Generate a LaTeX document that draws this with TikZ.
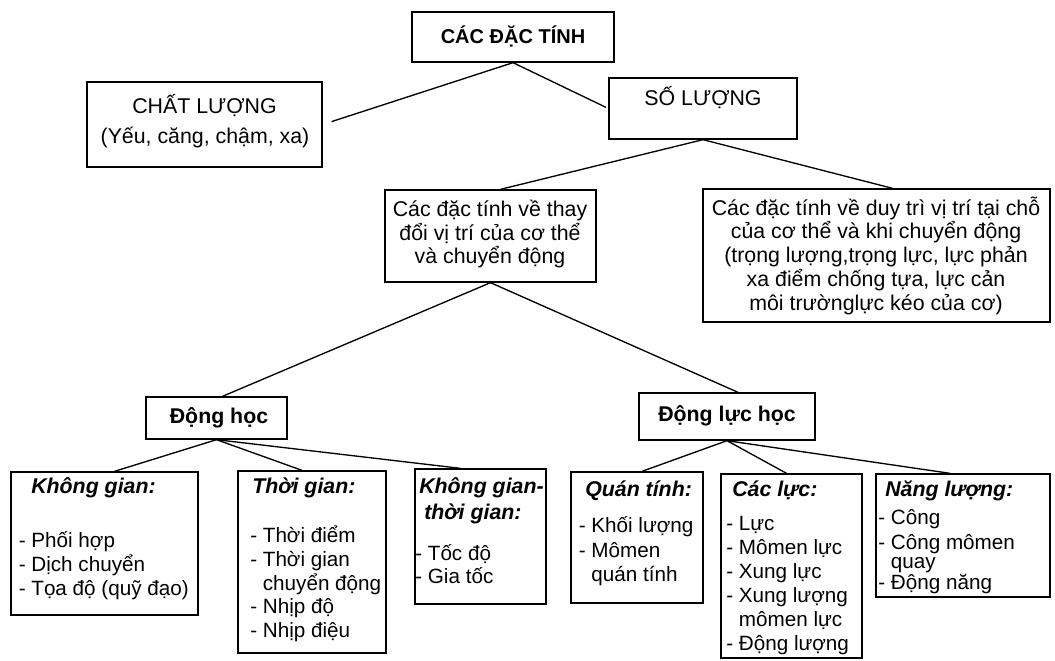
\documentclass[tikz,border=0pt]{standalone}
\usepackage{fontspec}
\setmainfont{Liberation Sans}
\usetikzlibrary{calc,fit}
\begin{document}
\begin{tikzpicture}[x=0.75pt,y=-0.75pt,
  box/.style={draw, line width=1pt, inner sep=0pt, rectangle},
  conn/.style={line width=1pt},
  tline/.style={font=\fontsize{16pt}{18pt}\selectfont, anchor=base, inner sep=0pt},
  tbold/.style={font=\fontsize{16pt}{18pt}\selectfont\bfseries, anchor=base, inner sep=0pt},
  hd/.style={font=\fontsize{16pt}{18pt}\selectfont\bfseries\itshape, anchor=base west, inner sep=0pt},
  itm/.style={font=\fontsize{15.5pt}{18pt}\selectfont, anchor=base west, inner sep=0pt}]
\useasboundingbox (0,0) rectangle (1055,660);
\fill[white] (0,0) rectangle (1055,660);

% boxes
\node[box, fit={(412,12) (614,62)}] (top) {};
\node[box, fit={(87,82) (322,167)}] (chat) {};
\node[box, fit={(609,78) (797,139)}] (so) {};
\node[box, fit={(385,190) (596,282)}] (thay) {};
\node[box, fit={(703,189) (1050,322)}] (duy) {};
\node[box, fit={(146,397) (287,439)}] (dh) {};
\node[box, fit={(639,393) (815,440)}] (dlh) {};
\node[box, fit={(11,472) (198,615)}] (kg) {};
\node[box, fit={(238,471) (386,653)}] (tg) {};
\node[box, fit={(415,469) (546,604)}] (kgtg) {};
\node[box, fit={(571,472) (703,603)}] (qt) {};
\node[box, fit={(721,474) (862,658)}] (cl) {};
\node[box, fit={(876,474) (1050,597)}] (nl) {};

% connectors
\draw[conn, shorten >=7pt] (top.south) -- (chat.east);
\draw[conn, shorten >=2pt] (top.south) -- (so.west);
\draw[conn] (so.south) -- ($(thay.north)+(10,0)$);
\draw[conn] (so.south) -- ($(duy.north)+(16,0)$);
\draw[conn] (thay.south) -- ($(dh.north)+(6,0)$);
\draw[conn] (thay.south) -- ($(dlh.north)+(11,0)$);
\draw[conn] (dh.south) -- ($(kg.north)+(10,0)$);
\draw[conn] (dh.south) -- ($(tg.north)+(-10,0)$);
\draw[conn] (dh.south) -- ($(kgtg.north)+(-20,0)$);
\draw[conn] (dlh.south) -- ($(qt.north)+(5,0)$);
\draw[conn] (dlh.south) -- ($(cl.north)+(-5,0)$);
\draw[conn] (dlh.south) -- ($(nl.north)+(-13,0)$);

% top texts
\node[tbold, font=\fontsize{15pt}{18pt}\selectfont\bfseries] (topT) at (513,43.5) {CÁC ĐẶC TÍNH};
\node[tline] (chat1) at (204.5,113) {CHẤT LƯỢNG};
\node[tline] (chat2) at (205,143) {(Yếu, căng, chậm, xa)};
\node[tline] (so1) at (703,105) {SỐ LƯỢNG};
\node[tline] (thay1) at (490,216.5) {Các đặc tính về thay};
\node[tline] (thay2) at (490,240) {đổi vị trí của cơ thể};
\node[tline] (thay3) at (490,263.5) {và chuyển động};
\node[tline] (duy1) at (876,215) {Các đặc tính về duy trì vị trí tại chỗ};
\node[tline] (duy2) at (876,238.5) {của cơ thể và khi chuyển động};
\node[tline] (duy3) at (876,262.5) {(trọng lượng,trọng lực, lực phản};
\node[tline] (duy4) at (876,286.5) {xa điểm chống tựa, lực cản};
\node[tline] (duy5) at (876,310) {môi trườnglực kéo của cơ)};
\node[tbold] (dhT) at (219,423) {Động học};
\node[tbold] (dlhT) at (727,421) {Động lực học};

% Không gian
\node[hd] (kgH) at (31,493) {Không gian:};
\node[itm] (kg1) at (18.5,547) {- Phối hợp};
\node[itm] (kg2) at (18.5,571) {- Dịch chuyển};
\node[itm] (kg3) at (18.5,595) {- Tọa độ (quỹ đạo)};

% Thời gian
\node[hd] (tgH) at (252,493) {Thời gian:};
\node[itm] (tg1) at (250,542) {- Thời điểm};
\node[itm] (tg2) at (250,566) {- Thời gian};
\node[itm] (tg3) at (250,590) {\phantom{- }chuyển động};
\node[itm] (tg4) at (250,613.5) {- Nhịp độ};
\node[itm] (tg5) at (250,637.5) {- Nhịp điệu};

% Không gian - thời gian
\node[hd] (kgtgH1) at (419,493) {Không gian-};
\node[hd] (kgtgH2) at (424,519) {thời gian:};
\node[itm] (kgtg1) at (415,560) {- Tốc độ};
\node[itm] (kgtg2) at (415,583) {- Gia tốc};

% Quán tính
\node[hd] (qtH) at (585,496) {Quán tính:};
\node[itm] (qt1) at (578.5,532) {- Khối lượng};
\node[itm] (qt2) at (578.5,557) {- Mômen};
\node[itm] (qt3) at (578.5,581) {\phantom{- }quán tính};

% Các lực
\node[hd] (clH) at (732,496) {Các lực:};
\node[itm] (cl1) at (726,530) {- Lực};
\node[itm] (cl2) at (726,554) {- Mômen lực};
\node[itm] (cl3) at (726,578) {- Xung lực};
\node[itm] (cl4) at (726,602) {- Xung lượng};
\node[itm] (cl5) at (726,626) {\phantom{- }mômen lực};
\node[itm] (cl6) at (726,650) {- Động lượng};

% Năng lượng
\node[hd] (nlH) at (885,496) {Năng lượng:};
\node[itm] (nl1) at (878,524) {- Công};
\node[itm] (nl2) at (878,549) {- Công mômen};
\node[itm] (nl3) at (878,568) {\phantom{- }quay};
\node[itm] (nl4) at (878,589) {- Động năng};
\end{tikzpicture}
\end{document}
